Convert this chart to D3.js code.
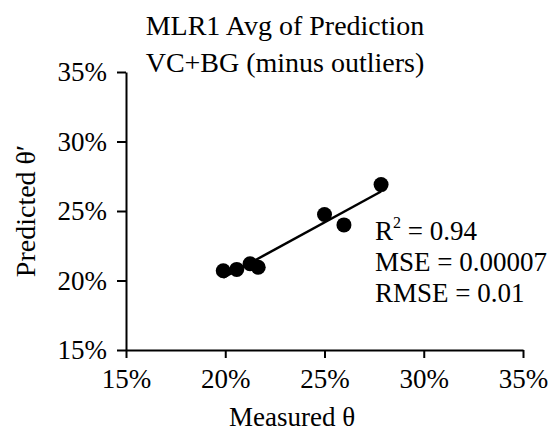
<!DOCTYPE html>
<html>
<head>
<meta charset="utf-8">
<script src="https://cdn.jsdelivr.net/npm/d3@7"></script>
<style>
  html, body { margin: 0; padding: 0; background: #fff; }
  svg { display: block; }
  text { font-family: "Palatino Linotype", "Book Antiqua", Palatino, "Liberation Serif", serif; fill: #000; }
</style>
</head>
<body>
<svg id="chart" width="548" height="434"></svg>
<script>
// Measured vs predicted soil moisture (fractions of volume)
const measured  = [0.199, 0.2058, 0.2125, 0.2166, 0.250, 0.2598, 0.2785];
const predicted = [0.207, 0.208, 0.212, 0.2095, 0.2475, 0.240, 0.269];
const axisTicks = [0.15, 0.20, 0.25, 0.30, 0.35];
const titleLines = ["MLR1 Avg of Prediction", "VC+BG (minus outliers)"];
const statLines = [
  { label: "R", sup: "2", rest: " = 0.94" },
  { label: "MSE = 0.00007" },
  { label: "RMSE = 0.01" }
];

const svg = d3.select("#chart");
const fontSize = 27;

const x = d3.scaleLinear().domain([0.15, 0.35]).range([126, 523]);
const y = d3.scaleLinear().domain([0.15, 0.35]).range([350, 72]);
const pct = d3.format(".0%");

// Axes
const xAxis = svg.append("g")
  .attr("transform", `translate(0,${y(0.15)})`)
  .call(d3.axisBottom(x).tickValues(axisTicks).tickFormat(pct).tickSize(8).tickSizeOuter(0).tickPadding(11));
const yAxis = svg.append("g")
  .attr("transform", `translate(${x(0.15)},0)`)
  .call(d3.axisLeft(y).tickValues(axisTicks).tickFormat(pct).tickSize(9).tickSizeOuter(0).tickPadding(10));

[xAxis, yAxis].forEach(g => {
  g.select(".domain").attr("stroke", "#000").attr("stroke-width", 2);
  g.selectAll(".tick line").attr("stroke", "#000").attr("stroke-width", 2);
  g.selectAll(".tick text").attr("font-size", fontSize).attr("fill", "#000")
    .style("font-family", "\"Palatino Linotype\", \"Book Antiqua\", Palatino, \"Liberation Serif\", serif");
});
xAxis.selectAll(".tick text").attr("dy", "0.71em");

// Least-squares trend line over the measured range
const mx = d3.mean(measured), my = d3.mean(predicted);
const sxy = d3.sum(measured, (v, i) => (v - mx) * (predicted[i] - my));
const sxx = d3.sum(measured, v => (v - mx) ** 2);
const slope = sxy / sxx, intercept = my - slope * mx;
const [xmin, xmax] = d3.extent(measured);
svg.append("line")
  .attr("x1", x(xmin)).attr("y1", y(intercept + slope * xmin))
  .attr("x2", x(xmax)).attr("y2", y(intercept + slope * xmax))
  .attr("stroke", "#000").attr("stroke-width", 2.5);

// Points
svg.append("g").selectAll("circle")
  .data(measured.map((m, i) => [m, predicted[i]]))
  .join("circle")
  .attr("cx", d => x(d[0])).attr("cy", d => y(d[1]))
  .attr("r", 7.5).attr("fill", "#000");

// Title
svg.append("g").selectAll("text")
  .data(titleLines)
  .join("text")
  .attr("x", 285).attr("y", (d, i) => 35 + i * 37)
  .attr("text-anchor", "middle").attr("font-size", 28)
  .text(d => d);

// Fit statistics
const stats = svg.append("g").attr("font-size", fontSize);
statLines.forEach((s, i) => {
  const t = stats.append("text").attr("x", 375).attr("y", 240 + i * 31);
  t.append("tspan").text(s.label);
  if (s.sup) {
    t.append("tspan").attr("font-size", 16).attr("dy", -12).text(s.sup);
    t.append("tspan").attr("dy", 12).text(s.rest);
  }
});

// Axis titles
svg.append("text")
  .attr("x", 292).attr("y", 426)
  .attr("text-anchor", "middle").attr("font-size", 27)
  .text("Measured θ");
svg.append("text")
  .attr("transform", "translate(35,211) rotate(-90)")
  .attr("text-anchor", "middle").attr("font-size", 28)
  .text("Predicted θ′");
</script>
</body>
</html>
